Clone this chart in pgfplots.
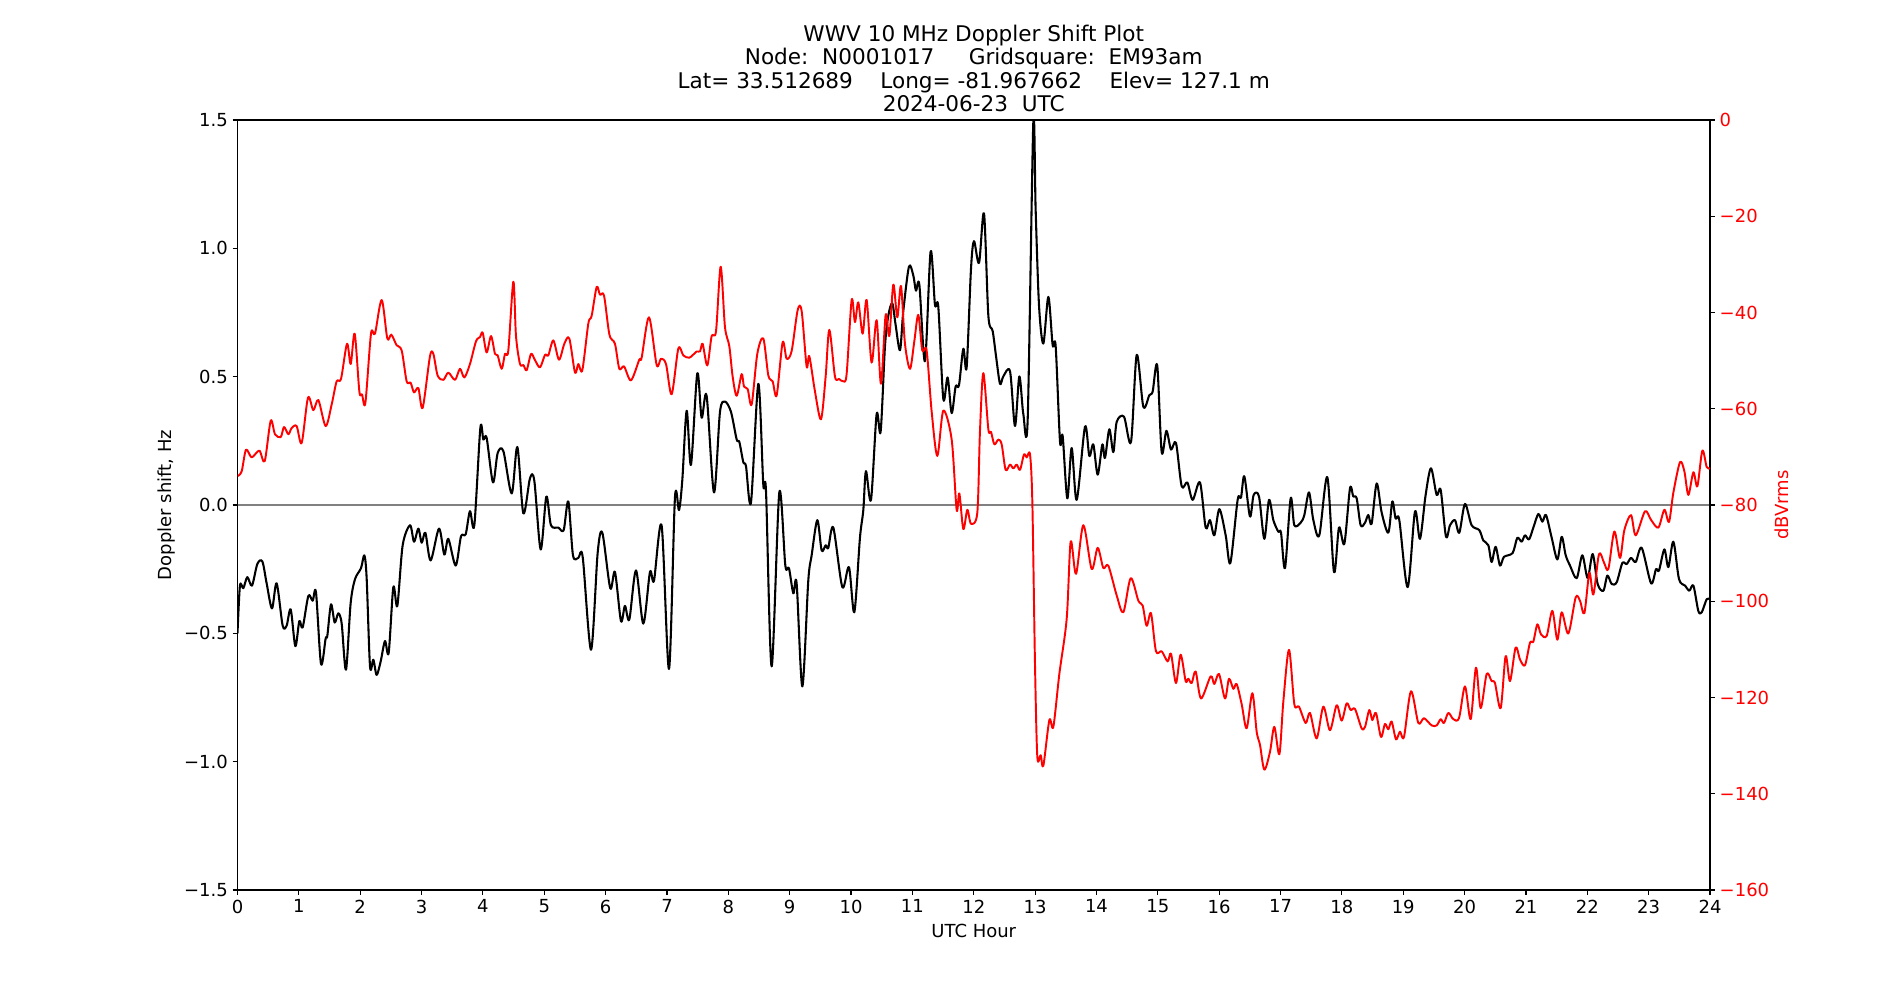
\documentclass[border=0pt]{standalone}
\usepackage{fontspec}
\setmainfont{DejaVu Sans}
\usepackage{pgfplots}
\pgfplotsset{compat=1.18}
\pgfplotsset{
  common/.style={
    at={(2.375in,1.1in)}, anchor=south west,
    scale only axis, width=14.725in, height=7.7in,
    xmin=0, xmax=24,
    tick align=outside, major tick length=3.5pt,
    tick style={line width=0.8pt, black},
    axis line style={line width=0.8pt},
    ticklabel style={font=\fontsize{13}{15}\selectfont},
    label style={font=\fontsize{13}{15}\selectfont},
  }
}
\begin{document}
\begin{tikzpicture}
\useasboundingbox (0,0) rectangle (19in,10in);
\begin{axis}[common,
  ymin=-1.5, ymax=1.5,
  xtick={0,...,24},
  xticklabels={0,1,2,3,4,5,6,7,8,9,10,11,12,13,14,15,16,17,18,19,20,21,22,23,24},
  ytick={-1.5,-1,-0.5,0,0.5,1,1.5},
  yticklabels={−1.5,−1.0,−0.5,0.0,0.5,1.0,1.5},
  xtick pos=bottom, ytick pos=left,
  xlabel={UTC Hour},
  xlabel style={at={(axis description cs:0.5,-0.0527)}, anchor=center},
  ylabel={Doppler shift, Hz},
  ylabel style={at={(axis description cs:-0.0479,0.5)}, anchor=center},
]
\addplot[gray, line width=0.8pt] coordinates {(0,0) (24,0)};
\addplot[black, line width=1.5pt, smooth, tension=0.5, line join=round] coordinates {
(0,-0.50)(0.04,-0.314)(0.095,-0.324)(0.16,-0.281)(0.236,-0.314)(0.323,-0.23)(0.405,-0.22)(0.475,-0.305)(0.562,-0.403)(0.638,-0.305)(0.736,-0.47)(0.801,-0.47)(0.867,-0.407)(0.943,-0.55)(1.008,-0.452)(1.062,-0.477)(1.155,-0.354)(1.225,-0.373)(1.279,-0.34)(1.361,-0.619)(1.437,-0.52)(1.464,-0.51)(1.524,-0.387)(1.584,-0.458)(1.643,-0.422)(1.698,-0.462)(1.768,-0.642)(1.844,-0.383)(1.915,-0.289)(2.013,-0.246)(2.067,-0.196)(2.105,-0.285)(2.16,-0.629)(2.214,-0.603)(2.268,-0.662)(2.334,-0.609)(2.404,-0.53)(2.464,-0.576)(2.54,-0.32)(2.605,-0.393)(2.692,-0.157)(2.812,-0.079)(2.877,-0.143)(2.948,-0.092)(3.002,-0.147)(3.062,-0.108)(3.148,-0.216)(3.284,-0.092)(3.371,-0.193)(3.436,-0.132)(3.556,-0.236)(3.643,-0.122)(3.719,-0.114)(3.789,-0.024)(3.86,-0.079)(3.958,0.30)(4.007,0.255)(4.061,0.261)(4.164,0.088)(4.24,0.202)(4.333,0.21)(4.469,0.045)(4.561,0.226)(4.659,-0.033)(4.767,0.104)(4.838,0.094)(4.941,-0.173)(5.034,0.033)(5.109,-0.079)(5.229,-0.088)(5.316,-0.098)(5.392,0.014)(5.468,-0.196)(5.555,-0.206)(5.626,-0.202)(5.762,-0.564)(5.87,-0.187)(5.946,-0.108)(6.075,-0.324)(6.152,-0.261)(6.25,-0.452)(6.315,-0.393)(6.386,-0.446)(6.495,-0.255)(6.614,-0.462)(6.723,-0.261)(6.788,-0.295)(6.913,-0.081)(7.033,-0.639)(7.13,0.029)(7.196,-0.02)(7.25,0.098)(7.321,0.367)(7.391,0.157)(7.494,0.513)(7.565,0.34)(7.646,0.426)(7.766,0.049)(7.864,0.363)(7.945,0.403)(8.043,0.363)(8.136,0.255)(8.179,0.246)(8.244,0.167)(8.288,0.151)(8.369,0.01)(8.489,0.472)(8.57,0.079)(8.614,0.053)(8.706,-0.629)(8.831,0.049)(8.929,-0.236)(8.988,-0.246)(9.059,-0.344)(9.113,-0.305)(9.206,-0.707)(9.303,-0.295)(9.358,-0.196)(9.45,-0.059)(9.521,-0.177)(9.586,-0.157)(9.629,-0.167)(9.711,-0.088)(9.858,-0.32)(9.966,-0.242)(10.053,-0.418)(10.145,-0.128)(10.2,-0.02)(10.243,0.132)(10.325,0.02)(10.417,0.354)(10.482,0.285)(10.553,0.619)(10.607,0.737)(10.672,0.786)(10.727,0.701)(10.798,0.603)(10.852,0.756)(10.944,0.929)(11.015,0.894)(11.058,0.835)(11.113,0.859)(11.205,0.56)(11.297,0.988)(11.368,0.78)(11.422,0.772)(11.504,0.413)(11.574,0.497)(11.64,0.358)(11.705,0.462)(11.759,0.466)(11.83,0.609)(11.884,0.536)(11.955,0.92)(12.004,1.028)(12.086,0.943)(12.167,1.136)(12.238,0.737)(12.308,0.678)(12.363,0.58)(12.428,0.472)(12.482,0.501)(12.591,0.521)(12.672,0.308)(12.743,0.501)(12.808,0.354)(12.879,0.334)(12.971,1.493)(13.009,1.149)(13.064,0.776)(13.134,0.629)(13.216,0.811)(13.286,0.623)(13.335,0.619)(13.406,0.246)(13.449,0.269)(13.525,0.026)(13.596,0.222)(13.678,0.02)(13.813,0.305)(13.884,0.191)(13.949,0.236)(14.02,0.118)(14.096,0.236)(14.139,0.183)(14.21,0.295)(14.275,0.206)(14.33,0.324)(14.449,0.344)(14.563,0.246)(14.656,0.585)(14.764,0.383)(14.862,0.428)(14.916,0.442)(14.99,0.544)(15.063,0.206)(15.14,0.289)(15.215,0.216)(15.296,0.242)(15.389,0.073)(15.481,0.088)(15.568,0.02)(15.687,0.088)(15.78,-0.088)(15.85,-0.059)(15.921,-0.118)(16.003,-0.016)(16.106,-0.118)(16.182,-0.226)(16.301,0.02)(16.356,0.029)(16.41,0.112)(16.502,-0.045)(16.562,0.039)(16.649,0.033)(16.736,-0.132)(16.812,0.02)(16.883,-0.059)(16.964,-0.104)(17.008,-0.108)(17.073,-0.246)(17.165,0.026)(17.225,-0.079)(17.328,-0.069)(17.388,-0.039)(17.464,0.049)(17.535,-0.059)(17.632,-0.118)(17.763,0.108)(17.871,-0.261)(17.953,-0.088)(18.04,-0.151)(18.132,0.065)(18.186,0.033)(18.241,0.026)(18.306,-0.079)(18.377,-0.069)(18.431,-0.039)(18.485,-0.073)(18.567,0.084)(18.648,-0.029)(18.757,-0.108)(18.822,0.014)(18.876,-0.053)(18.936,-0.059)(19.072,-0.32)(19.191,-0.026)(19.273,-0.132)(19.365,0.039)(19.452,0.143)(19.545,0.039)(19.61,0.059)(19.697,-0.124)(19.762,-0.079)(19.843,-0.059)(19.914,-0.108)(20.006,0.004)(20.115,-0.079)(20.24,-0.098)(20.305,-0.138)(20.387,-0.157)(20.441,-0.222)(20.506,-0.163)(20.577,-0.236)(20.642,-0.202)(20.783,-0.187)(20.859,-0.128)(20.93,-0.143)(20.984,-0.118)(21.05,-0.134)(21.121,-0.088)(21.202,-0.035)(21.268,-0.065)(21.327,-0.039)(21.42,-0.128)(21.512,-0.212)(21.583,-0.124)(21.648,-0.196)(21.718,-0.236)(21.827,-0.285)(21.919,-0.196)(22.006,-0.285)(22.088,-0.191)(22.169,-0.308)(22.262,-0.334)(22.327,-0.275)(22.398,-0.308)(22.479,-0.301)(22.571,-0.226)(22.642,-0.23)(22.713,-0.206)(22.789,-0.222)(22.887,-0.167)(23.039,-0.305)(23.12,-0.25)(23.169,-0.255)(23.256,-0.173)(23.321,-0.242)(23.403,-0.143)(23.495,-0.289)(23.593,-0.314)(23.663,-0.334)(23.729,-0.314)(23.81,-0.413)(23.865,-0.418)(23.946,-0.367)(24.0,-0.367)
};
\end{axis}
\begin{axis}[common,
  ymin=-160, ymax=0,
  axis x line=none, axis y line*=right,
  ytick={-160,-140,-120,-100,-80,-60,-40,-20,0},
  yticklabels={−160,−140,−120,−100,−80,−60,−40,−20,0},
  yticklabel style={red},
  ylabel={dBVrms},
  ylabel style={red, at={(axis description cs:1.0487,0.5)}, anchor=center, rotate=0},
]
\addplot[red, line width=1.4pt, smooth, tension=0.5, line join=round] coordinates {
(0,-74)(0.068,-73.0)(0.139,-68.5)(0.231,-70.1)(0.356,-68.7)(0.443,-70.9)(0.541,-62.5)(0.611,-65.3)(0.704,-65.9)(0.758,-63.8)(0.829,-65.3)(0.883,-64.0)(0.964,-63.6)(1.046,-67.1)(1.149,-57.7)(1.236,-60.3)(1.318,-58.2)(1.437,-63.6)(1.535,-59.1)(1.616,-54.3)(1.687,-53.8)(1.785,-46.5)(1.845,-50.7)(1.91,-44.4)(1.986,-56.4)(2.029,-57.0)(2.084,-58.8)(2.176,-44.4)(2.241,-44.4)(2.35,-37.4)(2.442,-45.4)(2.507,-44.6)(2.594,-46.8)(2.676,-47.9)(2.757,-54.3)(2.822,-54.6)(2.877,-56.6)(2.948,-55.7)(3.018,-59.8)(3.137,-49.1)(3.192,-48.6)(3.262,-53.1)(3.355,-54.0)(3.436,-52.5)(3.545,-54.0)(3.626,-51.7)(3.697,-53.5)(3.789,-50.7)(3.887,-46.0)(3.952,-45.1)(3.996,-44.2)(4.061,-48.3)(4.132,-44.9)(4.197,-48.6)(4.24,-48.9)(4.306,-51.7)(4.36,-48.6)(4.414,-47.9)(4.496,-33.6)(4.539,-44.9)(4.604,-50.7)(4.659,-50.9)(4.713,-52.0)(4.784,-48.6)(4.849,-49.9)(4.93,-51.4)(5.012,-48.8)(5.066,-48.9)(5.148,-45.8)(5.24,-49.8)(5.327,-46.5)(5.408,-45.4)(5.501,-52.5)(5.555,-50.7)(5.62,-52.0)(5.718,-42.3)(5.772,-40.7)(5.854,-34.7)(5.908,-36.3)(5.974,-36.5)(6.062,-44.6)(6.152,-46.5)(6.223,-51.7)(6.3,-51.2)(6.413,-54.1)(6.549,-49.8)(6.587,-49.4)(6.707,-41.0)(6.832,-50.9)(6.902,-49.6)(6.984,-50.7)(7.076,-57.0)(7.185,-47.5)(7.266,-48.9)(7.364,-49.4)(7.484,-48.1)(7.538,-48.1)(7.581,-46.5)(7.657,-51.0)(7.728,-44.9)(7.799,-43.9)(7.875,-30.5)(7.945,-43.0)(8.016,-47.0)(8.07,-53.3)(8.136,-57.3)(8.217,-52.8)(8.255,-55.4)(8.315,-55.9)(8.38,-59.1)(8.472,-48.6)(8.57,-45.4)(8.652,-53.1)(8.722,-54.3)(8.788,-57.2)(8.885,-46.2)(8.95,-49.6)(9.032,-48.0)(9.13,-39.5)(9.195,-39.7)(9.276,-51.2)(9.32,-49.1)(9.412,-56.4)(9.51,-62.2)(9.586,-53.3)(9.646,-43.6)(9.738,-53.3)(9.803,-53.8)(9.874,-54.3)(9.928,-52.8)(10.01,-37.4)(10.064,-42.0)(10.118,-37.9)(10.189,-44.4)(10.254,-37.4)(10.335,-50.4)(10.417,-41.6)(10.488,-54.8)(10.564,-40.5)(10.624,-44.9)(10.689,-34.2)(10.754,-41.0)(10.814,-34.5)(10.879,-46.5)(10.961,-51.7)(11.031,-46.0)(11.096,-40.5)(11.161,-47.9)(11.232,-47.9)(11.314,-60.6)(11.406,-69.8)(11.504,-60.4)(11.64,-66.4)(11.721,-81.0)(11.765,-77.6)(11.83,-85.0)(11.895,-81.0)(11.955,-83.9)(12.058,-81.6)(12.101,-64.8)(12.156,-52.6)(12.238,-64.3)(12.281,-64.8)(12.336,-67.4)(12.401,-66.4)(12.455,-67.4)(12.52,-72.7)(12.591,-71.6)(12.645,-72.4)(12.7,-71.6)(12.754,-72.7)(12.819,-69.5)(12.863,-70.1)(12.917,-69.5)(12.955,-79.5)(12.998,-113)(13.036,-132.3)(13.091,-132.0)(13.134,-134.2)(13.232,-124.7)(13.297,-126.1)(13.395,-115.1)(13.515,-103.6)(13.58,-87.6)(13.667,-94.3)(13.786,-84.2)(13.922,-93.3)(14.02,-88.9)(14.112,-93.1)(14.193,-92.6)(14.33,-98.8)(14.438,-102.3)(14.558,-95.2)(14.683,-99.9)(14.753,-100.9)(14.818,-105.1)(14.889,-102.5)(14.97,-110.4)(15.063,-110.4)(15.16,-112.5)(15.215,-110.9)(15.296,-117.0)(15.372,-111.1)(15.454,-116.6)(15.497,-116.1)(15.552,-117.0)(15.617,-114.6)(15.704,-120.2)(15.861,-115.6)(15.921,-117.2)(15.997,-115.1)(16.095,-120.2)(16.16,-116.1)(16.231,-118.2)(16.285,-117.2)(16.367,-121.4)(16.448,-126.4)(16.541,-119.1)(16.611,-127.1)(16.666,-129.9)(16.736,-135.0)(16.828,-131.3)(16.899,-126.1)(16.981,-131.8)(17.046,-120.8)(17.138,-110.1)(17.225,-121.4)(17.301,-121.9)(17.41,-125.3)(17.48,-123.2)(17.589,-128.5)(17.698,-121.9)(17.806,-126.8)(17.915,-121.6)(17.997,-124.8)(18.078,-121.2)(18.143,-122.6)(18.214,-122.4)(18.322,-126.4)(18.377,-126.1)(18.447,-122.6)(18.496,-124.7)(18.556,-123.2)(18.637,-128.2)(18.702,-125.5)(18.757,-126.6)(18.811,-125.0)(18.882,-128.7)(18.947,-127.1)(19.012,-128.2)(19.126,-118.7)(19.246,-125.3)(19.338,-124.3)(19.463,-125.8)(19.545,-125.8)(19.61,-124.5)(19.664,-125.3)(19.735,-123.2)(19.816,-124.5)(19.909,-124.3)(20.006,-117.7)(20.099,-124.5)(20.186,-113.8)(20.262,-122.2)(20.36,-115.1)(20.441,-116.6)(20.495,-117.0)(20.588,-122.2)(20.669,-111.4)(20.74,-116.6)(20.832,-109.6)(20.903,-112.1)(20.984,-113.3)(21.066,-108.6)(21.12,-108.4)(21.186,-104.8)(21.246,-106.9)(21.338,-107.2)(21.43,-102.0)(21.512,-108.0)(21.583,-102.3)(21.691,-106.7)(21.811,-99.2)(21.881,-99.9)(21.952,-102.5)(22.034,-94.1)(22.099,-98.6)(22.191,-90.2)(22.273,-92.0)(22.343,-93.3)(22.441,-85.5)(22.533,-91.0)(22.604,-85.2)(22.713,-82.1)(22.789,-86.3)(22.941,-81.3)(23.039,-83.1)(23.158,-84.7)(23.256,-81.0)(23.332,-83.5)(23.403,-77.4)(23.511,-71.1)(23.582,-73.0)(23.647,-77.9)(23.729,-73.2)(23.794,-76.1)(23.875,-68.7)(23.946,-72.1)(24.0,-72.4)
};
\end{axis}
\begin{scope}[every node/.style={anchor=base, inner sep=0pt, font=\fontsize{15.6}{18}\selectfont}]
\node at (9.7375in,9.584in) {WWV 10 MHz Doppler Shift Plot};
\node at (9.7375in,9.351in) {Node:~~N0001017~~~~~Gridsquare:~~EM93am};
\node at (9.7375in,9.118in) {Lat=~33.512689~~~~Long=~-81.967662~~~~Elev=~127.1~m};
\node at (9.7375in,8.885in) {2024-06-23~~UTC};
\end{scope}
\end{tikzpicture}
\end{document}
